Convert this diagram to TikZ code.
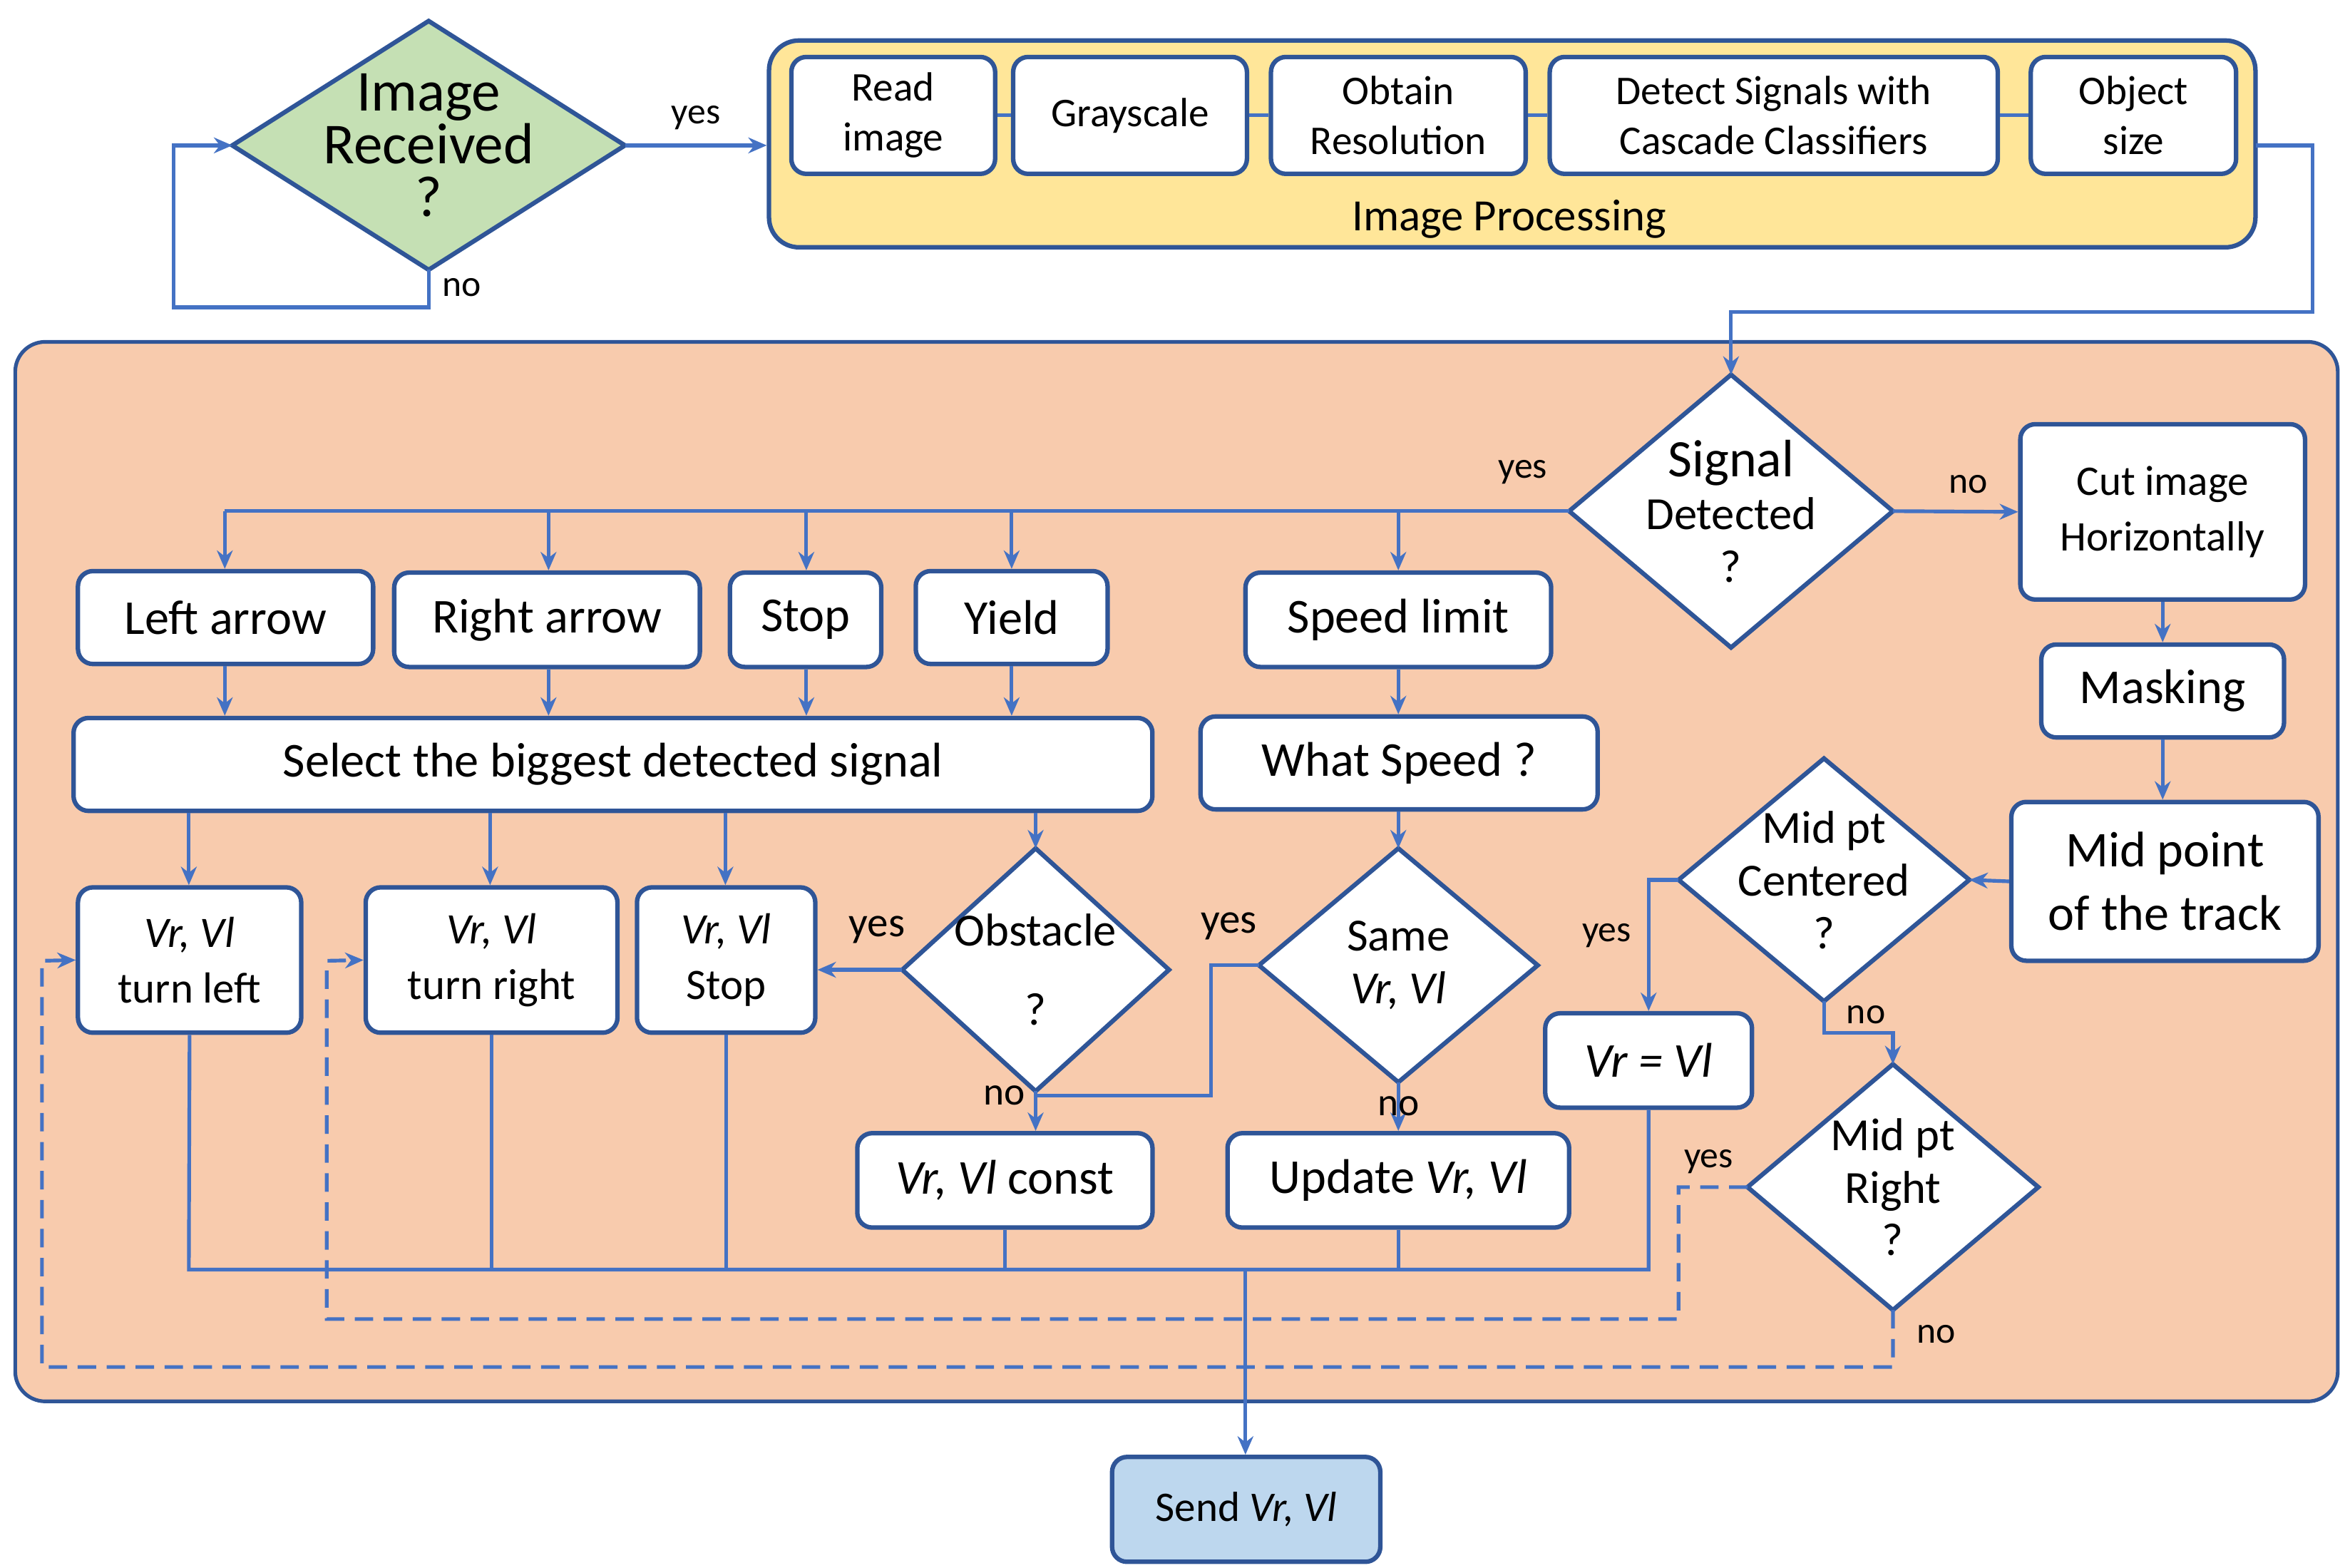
\documentclass[tikz,border=0pt]{standalone}
\usepackage{fontspec}
\setmainfont{Carlito}
\usetikzlibrary{shapes.geometric,arrows.meta}
\definecolor{ln}{HTML}{4472C4}
\definecolor{bd}{HTML}{2F5597}
\definecolor{orng}{HTML}{F8CBAD}
\definecolor{yel}{HTML}{FFE699}
\definecolor{grn}{HTML}{C5E0B4}
\definecolor{sky}{HTML}{BDD7EE}
\newcommand\mydia[7]{%
 \path[fill=#6,draw=bd,line width=1.7pt] (#2-#4/2,#3)--(#2,#3-#5/2)--(#2+#4/2,#3)--(#2,#3+#5/2)--cycle;
 \node[rectangle,inner sep=0pt,outer sep=0pt,align=center,minimum width=#4*0.02cm,minimum height=#5*0.02cm,font=\fontsize{17.5}{20}\selectfont] (#1) at (#2,#3) {#7};}
\begin{document}
\begin{tikzpicture}[x=0.02cm,y=-0.02cm,
 box/.style={draw=bd,line width=1.7pt,fill=white,rounded corners=0.2cm,align=center,inner sep=0pt,font=\fontsize{18.5}{22}\selectfont},
 sbox/.style={box,font=\fontsize{15.5}{19}\selectfont},
 con/.style={draw=ln,line width=1.4pt},
 arr/.style={con,-{Stealth[length=7pt,width=6pt]}},
 dsh/.style={dash pattern=on 7pt off 4pt},
 lab/.style={font=\fontsize{14}{16}\selectfont}]
\useasboundingbox (0,0) rectangle (1568,1046);
% top
\mydia{recv}{286}{97}{262}{166}{grn}{\fontsize{22}{21}\selectfont Image\\\fontsize{22}{24}\selectfont Received\\\fontsize{22}{28}\selectfont ?}
\node[draw=bd,line width=1.7pt,fill=yel,rounded corners=0.4cm,minimum width=19.84cm,minimum height=2.76cm] (ip) at (1009,96) {};
\node[font=\fontsize{17}{18}\selectfont] at (1007,146) {Image Processing};
\node[sbox,minimum width=2.72cm,minimum height=1.56cm] (read) at (596,77) {Read\\image};
\node[sbox,minimum width=3.12cm,minimum height=1.56cm] (gray) at (754,77) {Grayscale};
\node[sbox,minimum width=3.4cm,minimum height=1.56cm] (obt) at (933,77) {Obtain\\Resolution};
\node[sbox,minimum width=5.98cm,minimum height=1.56cm] (det) at (1183.5,77) {Detect Signals with\\Cascade Classifiers};
\node[sbox,minimum width=2.74cm,minimum height=1.56cm] (obj) at (1423.5,77) {Object\\size};
\draw[con] (read.east)--(gray.west) (gray.east)--(obt.west) (obt.east)--(det.west) (det.east)--(obj.west);
\draw[arr] (recv.east) -- (recv.east -| ip.west) node[lab,midway,above=2pt]{yes};
\draw[arr] (recv.south) -- (286,205) -- (116,205) -- (116,97) -- (recv.west);
\node[lab] at (308,192) {no};
% orange
\node[draw=bd,line width=1.4pt,fill=orng,rounded corners=0.4cm,minimum width=31cm,minimum height=14.14cm] (org) at (785,581.5) {};
\mydia{sig}{1155}{341}{216}{182}{white}{\fontsize{20}{21}\selectfont Signal\\Detected\\?}
\draw[arr] (1505,97) -- (1543,97) -- (1543,208) -- (1155,208) -- (sig.north);
\node[box,minimum width=3.8cm,minimum height=2.34cm,font=\fontsize{16}{21}\selectfont] (cut) at (1443,341.5) {Cut image\\Horizontally};
\node[box,minimum width=3.94cm,minimum height=1.24cm] (left) at (150.5,412) {Left arrow};
\node[box,minimum width=4.08cm,minimum height=1.26cm] (right) at (365,413.5) {Right arrow};
\node[box,minimum width=2.02cm,minimum height=1.26cm] (stop) at (537.5,413.5) {Stop};
\node[box,minimum width=2.56cm,minimum height=1.24cm] (yield) at (675,412) {Yield};
\node[box,minimum width=4.08cm,minimum height=1.26cm] (speed) at (933,413.5) {Speed limit};
\node[box,minimum width=14.4cm,minimum height=1.24cm] (sel) at (409,510) {Select the biggest detected signal};
\node[box,minimum width=5.3cm,minimum height=1.24cm] (what) at (933.5,509) {What Speed ?};
\node[box,minimum width=3.24cm,minimum height=1.24cm] (mask) at (1443,461) {Masking};
\node[box,minimum width=4.1cm,minimum height=2.12cm,font=\fontsize{19}{24}\selectfont] (mid) at (1444.5,588) {Mid point\\of the track};
\node[box,minimum width=2.98cm,minimum height=1.94cm,font=\fontsize{16.5}{21}\selectfont] (tl) at (126.5,640.5) {\textit{Vr, Vl}\\turn left};
\node[box,minimum width=3.36cm,minimum height=1.94cm,font=\fontsize{16.5}{21}\selectfont] (tr) at (328,640.5) {\textit{Vr, Vl}\\turn right};
\node[box,minimum width=2.38cm,minimum height=1.94cm,font=\fontsize{16.5}{21}\selectfont] (vs) at (484.5,640.5) {\textit{Vr, Vl}\\Stop};
\node[box,minimum width=3.94cm,minimum height=1.26cm] (const) at (670.5,787.5) {\textit{Vr, Vl} const};
\node[box,minimum width=4.56cm,minimum height=1.26cm] (upd) at (933,787.5) {Update \textit{Vr, Vl}};
\node[box,minimum width=2.76cm,minimum height=1.26cm] (veq) at (1100,707.5) {\textit{Vr = Vl}};
\node[box,fill=sky,minimum width=3.58cm,minimum height=1.4cm,font=\fontsize{16}{18}\selectfont] (send) at (831.5,1007) {Send \textit{Vr, Vl}};
\mydia{obs}{691}{647}{178}{162}{white}{Obstacle\\[10pt]?}
\mydia{same}{933}{644}{186}{156}{white}{Same\\\textit{Vr, Vl}}
\mydia{cen}{1217}{587}{194}{162}{white}{Mid pt\\Centered\\?}
\mydia{mr}{1263}{792}{194}{164}{white}{Mid pt\\Right\\?}
% signal branches
\draw[arr] (sig.east) -- (cut.west) node[lab,pos=0.6,above=3pt]{no};
\node[lab] at (1016,315) {yes};
\draw[con] (sig.west) -- (150,341);
\foreach \n/\x in {left/150,right/366,stop/538,yield/675,speed/933}
  \draw[arr] (\x,341) -- (\n.north -| \x,0);
\foreach \n/\x in {left/150,right/366,stop/538,yield/675}
  \draw[arr] (\n.south -| \x,0) -- (sel.north -| \x,0);
\draw[arr] (speed.south) -- (what.north -| speed.south);
\draw[arr] (cut.south) -- (mask.north);
\draw[arr] (mask.south) -- (mid.north -| mask.south);
\draw[arr] (mid.west) -- (cen.east);
\foreach \n/\x in {tl/126,tr/327,vs/484}
  \draw[arr] (sel.south -| \x,0) -- (\n.north -| \x,0);
\draw[arr] (sel.south -| obs.north) -- (obs.north);
\draw[arr] (obs.west) -- (obs.west -| vs.east) node[lab,pos=0.3,above=6pt,font=\fontsize{16}{18}\selectfont]{yes};
\draw[arr] (obs.south) -- (const.north -| obs.south);
\node[lab,font=\fontsize{15}{18}\selectfont] at (670,731) {no};
\draw[con] (same.west) -- (808,644) -- (808,731) -- (691,731);
\draw[arr] (what.south -| same.north) -- (same.north);
\node[lab,font=\fontsize{16}{18}\selectfont] at (820,618) {yes};
\draw[arr] (same.south) -- (upd.north -| same.south);
\node[lab,font=\fontsize{15}{18}\selectfont] at (933,738) {no};
\draw[arr] (cen.west) -- (1100,587) -- (veq.north);
\node[lab] at (1072,624) {yes};
\draw[arr] (cen.south) -- (1217,689) -- (1263,689) -- (mr.north);
\node[lab] at (1245,677) {no};
\draw[arr,dsh] (mr.west) -- (1120,792) -- (1120,880) -- (218,880) -- (218,641) -- (tr.west);
\node[lab] at (1140,775) {yes};
\draw[arr,dsh] (mr.south) -- (1263,912) -- (28,912) -- (28,641) -- (tl.west);
\node[lab] at (1292,890) {no};
% bus
\coordinate (bl) at (126,847); \coordinate (br) at (1100,847); \coordinate (bm) at (831,847);
\draw[con] (tl.south) -- (bl) -- (br) -- (veq.south);
\draw[con] (tr.south) -- (tr.south |- bl) (vs.south) -- (vs.south |- bl) (const.south) -- (const.south |- bl) (upd.south) -- (upd.south |- bl);
\draw[arr] (bm) -- (send.north -| bm);
\end{tikzpicture}
\end{document}
